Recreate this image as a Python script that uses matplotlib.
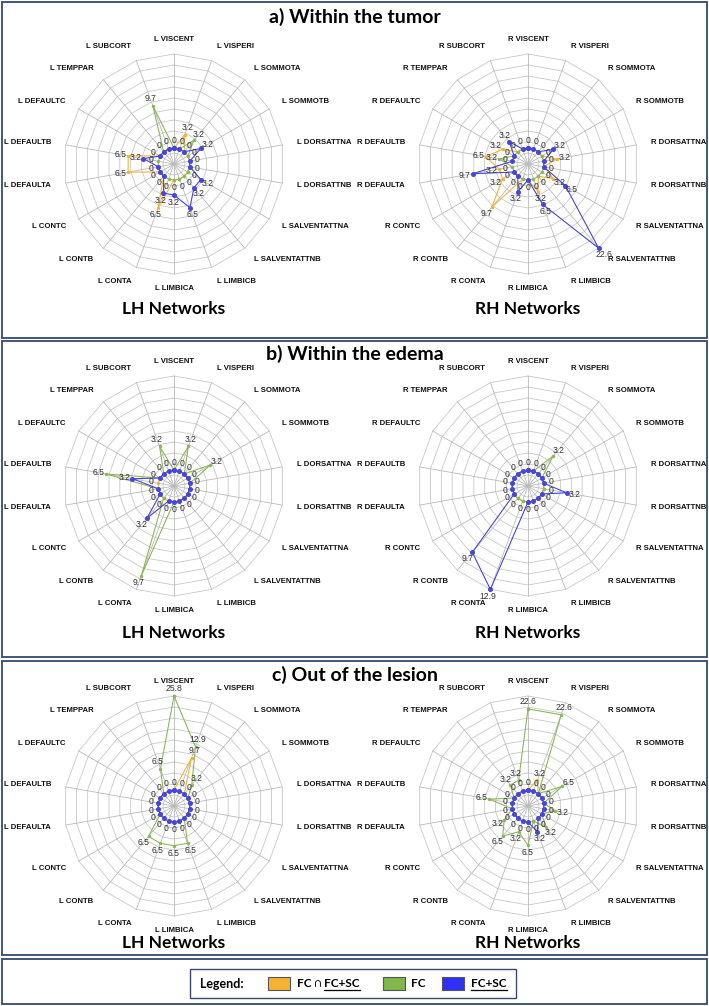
import matplotlib
matplotlib.use('Agg')
import matplotlib.pyplot as plt
from matplotlib.patches import Rectangle
import numpy as np

W, H = 709, 1006

networks = ['VISCENT', 'VISPERI', 'SOMMOTA', 'SOMMOTB', 'DORSATTNA', 'DORSATTNB',
            'SALVENTATTNA', 'SALVENTATTNB', 'LIMBICB', 'LIMBICA', 'CONTA', 'CONTB',
            'CONTC', 'DEFAULTA', 'DEFAULTB', 'DEFAULTC', 'TEMPPAR', 'SUBCORT']

# a) within the tumor
a_lh_both = [0, 3.2, 0, 0, 0, 0, 0, 0, 0, 0, 6.5, 0, 0, 6.5, 6.5, 0, 0, 0]
a_lh_fc = [0, 0, 3.2, 0, 0, 0, 0, 0, 0, 0, 0, 0, 0, 0, 0, 0, 0, 9.7]
a_lh_fcsc = [0, 0, 0, 3.2, 0, 0, 3.2, 3.2, 6.5, 3.2, 3.2, 0, 0, 0, 3.2, 0, 0, 0]
a_rh_both = [0, 0, 0, 0, 3.2, 0, 3.2, 0, 3.2, 0, 0, 9.7, 3.2, 3.2, 6.5, 3.2, 0, 0]
a_rh_fc = [0, 0, 0, 0, 0, 0, 0, 0, 0, 0, 0, 0, 0, 0, 3.2, 0, 0, 0]
a_rh_fcsc = [0, 0, 0, 3.2, 0, 0, 6.5, 22.6, 6.5, 0, 3.2, 0, 0, 9.7, 0, 0, 3.2, 0]

# b) within the edema
b_lh_both = [0] * 18
b_lh_fc = [0, 3.2, 0, 3.2, 0, 0, 0, 0, 0, 0, 9.7, 0, 0, 0, 6.5, 0, 0, 3.2]
b_lh_fcsc = [0, 0, 0, 0, 0, 0, 0, 0, 0, 0, 0, 3.2, 0, 0, 3.2, 0, 0, 0]
b_rh_both = [0] * 18
b_rh_fc = [0, 0, 3.2, 0, 0, 0, 0, 0, 0, 0, 0, 0, 0, 0, 0, 0, 0, 0]
b_rh_fcsc = [0, 0, 0, 0, 0, 3.2, 0, 0, 0, 0, 12.9, 9.7, 0, 0, 0, 0, 0, 0]

# c) out of the lesion
c_lh_both = [0, 9.7, 0, 0, 0, 0, 0, 0, 0, 0, 0, 0, 0, 0, 0, 0, 0, 0]
c_lh_fc = [25.8, 12.9, 3.2, 0, 0, 0, 0, 0, 6.5, 6.5, 6.5, 6.5, 0, 0, 0, 0, 0, 6.5]
c_lh_fcsc = [0] * 18
c_rh_both = [0, 3.2, 0, 0, 0, 0, 0, 0, 0, 0, 0, 0, 0, 0, 0, 0, 0, 0]
c_rh_fc = [22.6, 22.6, 0, 6.5, 0, 3.2, 0, 3.2, 0, 6.5, 3.2, 6.5, 3.2, 0, 6.5, 0, 3.2, 3.2]
c_rh_fcsc = [0, 0, 0, 0, 0, 0, 0, 0, 3.2, 0, 0, 0, 0, 0, 0, 0, 0, 0]

ORANGE = '#f2b43c'
GREEN = '#8cb85c'
BLUE = '#4646dc'
FRAME = '#34496e'


def px_axes(cx, cy, r):
    return [(cx - r) / W, 1 - (cy + r) / H, 2 * r / W, 2 * r / H]


def draw_radar(ax, prefix, both, fc, fcsc, rmax):
    rmin = -0.17 * rmax
    n = len(networks)
    theta = np.deg2rad(np.arange(n) * 360.0 / n)
    closed = np.append(theta, theta[0])
    ax.set_theta_zero_location('N')
    ax.set_theta_direction(-1)
    ax.set_ylim(rmin, rmax)
    ax.set_xticks([])
    ax.set_yticks([])
    ax.grid(False)
    ax.spines['polar'].set_visible(False)
    ax.patch.set_alpha(0)

    # polygon grid
    for lev in np.linspace(rmin, rmax, 11)[1:]:
        ax.plot(closed, np.full(closed.size, lev), color='#c8c8c8', lw=0.6, zorder=1, clip_on=False)
    for t in theta:
        ax.plot([t, t], [rmin, rmax], color='#bababa', lw=0.6, zorder=1, clip_on=False)

    for vals, col, ms in [(both, ORANGE, 1.5), (fc, GREEN, 1.5), (fcsc, BLUE, 2.6)]:
        v = np.append(vals, vals[0])
        ax.plot(closed, v, color=col, lw=0.8, marker='o', ms=ms, zorder=3, clip_on=False)

    # data labels
    for i, t in enumerate(theta):
        shown = sorted(set([both[i], fc[i], fcsc[i]]))
        for v in shown:
            d = 5.5
            txt = '0' if v == 0 else '%.1f' % v
            ax.annotate(txt, xy=(t, v), xytext=(d * np.sin(t), d * np.cos(t)),
                        textcoords='offset points', ha='center', va='center',
                        fontsize=6.2, color='#333333', zorder=5, family='Liberation Sans')

    # category labels
    lab_r = rmin + 1.135 * (rmax - rmin)
    for i, t in enumerate(theta):
        s = np.sin(t)
        if s > 0.1:
            ha = 'left'
        elif s < -0.1:
            ha = 'right'
        else:
            ha = 'center'
        ax.text(t, lab_r, prefix + ' ' + networks[i], ha=ha, va='center',
                fontsize=5.6, fontweight='bold', family='Liberation Sans', color='#111111')


fig = plt.figure(figsize=(W / 100, H / 100), dpi=100)


def box(x0, y0, x1, y1, lw=1.3, color=FRAME):
    fig.add_artist(Rectangle((x0 / W, 1 - y1 / H), (x1 - x0) / W, (y1 - y0) / H,
                             transform=fig.transFigure, fill=False, lw=lw, edgecolor=color))


box(2, 2, 707, 338)
box(2, 341, 707, 657)
box(2, 661, 707, 955)
box(2, 959, 707, 1004)

panels = [
    ('a) Within the tumor', 17, 164, 309, (a_lh_both, a_lh_fc, a_lh_fcsc, 20.0),
     (a_rh_both, a_rh_fc, a_rh_fcsc, 22.6)),
    ('b) Within the edema', 354, 486, 633, (b_lh_both, b_lh_fc, b_lh_fcsc, 11.5),
     (b_rh_both, b_rh_fc, b_rh_fcsc, 12.9)),
    ('c) Out of the lesion', 675, 806, 943, (c_lh_both, c_lh_fc, c_lh_fcsc, 25.8),
     (c_rh_both, c_rh_fc, c_rh_fcsc, 26.2)),
]

for title, ty, cy, ny, lh, rh in panels:
    fig.text(0.5, 1 - ty / H, title, ha='center', va='center', fontsize=14,
             fontweight='bold', family='Lato')
    ax1 = fig.add_axes(px_axes(174, cy, 110), projection='polar')
    draw_radar(ax1, 'L', *lh)
    ax2 = fig.add_axes(px_axes(528, cy, 110), projection='polar')
    draw_radar(ax2, 'R', *rh)
    fig.text(174 / W, 1 - ny / H, 'LH Networks', ha='center', va='center',
             fontsize=12.5, fontweight='bold', family='Lato')
    fig.text(528 / W, 1 - ny / H, 'RH Networks', ha='center', va='center',
             fontsize=12.5, fontweight='bold', family='Lato')

# legend
box(190, 969, 516, 998, lw=1.0, color='#3b4a6b')
ly = 1 - 983.5 / H
fam = ['Lato', 'DejaVu Sans']
fig.text(200 / W, ly, 'Legend:', ha='left', va='center', fontsize=9, fontweight='bold', family=fam)
for x0, col in [(268, '#f5b335'), (383, '#7fb74e'), (442, '#2f2ff5')]:
    fig.add_artist(Rectangle((x0 / W, 1 - 990 / H), 22 / W, 13 / H, transform=fig.transFigure,
                             facecolor=col, edgecolor='#555555', lw=0.8))

t1 = fig.text(297 / W, ly, 'FC \u2229 ', ha='left', va='center', fontsize=8.5,
              fontweight='bold', family=fam)
t3 = fig.text(411 / W, ly, 'FC', ha='left', va='center', fontsize=8.5,
              fontweight='bold', family=fam)
fig.canvas.draw()
r = fig.canvas.get_renderer()
bb1 = t1.get_window_extent(r)
t2 = fig.text(bb1.x1 / W, ly, 'FC+SC', ha='left', va='center', fontsize=8.5,
              fontweight='bold', family=fam)
t4 = fig.text(471 / W, ly, 'FC+SC', ha='left', va='center', fontsize=8.5,
              fontweight='bold', family=fam)
fig.canvas.draw()
for t in (t2, t4):
    bb = t.get_window_extent(r)
    yy = (bb.y0 - 1) / H
    fig.add_artist(plt.Line2D([bb.x0 / W, bb.x1 / W], [yy, yy], transform=fig.transFigure,
                              color='black', lw=0.9))

fig.savefig('out.png', dpi=100)
